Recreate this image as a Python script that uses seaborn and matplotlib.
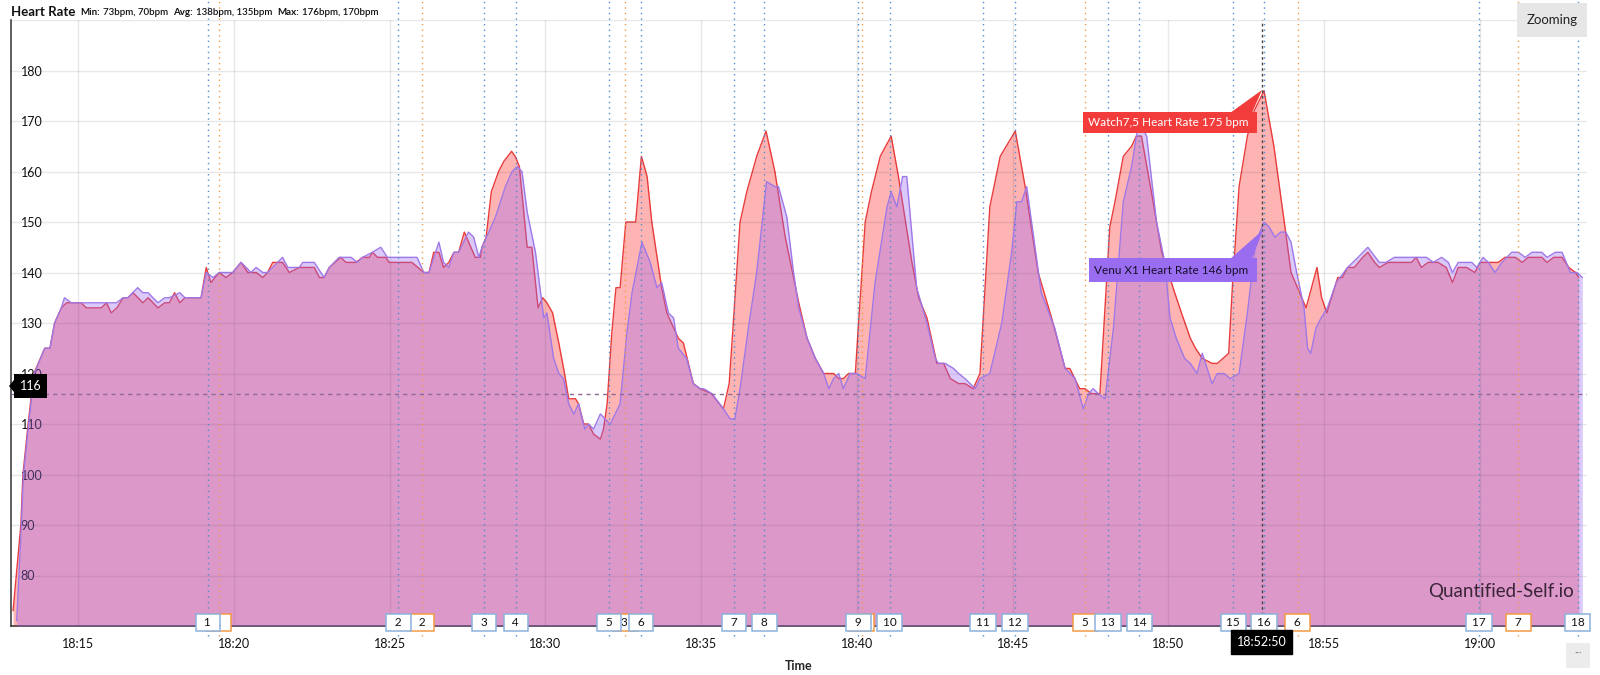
import matplotlib
matplotlib.use("Agg")
import matplotlib.pyplot as plt
import matplotlib.transforms as mtrans
from matplotlib.patches import Rectangle, Polygon
from matplotlib.ticker import FuncFormatter
import numpy as np
import pandas as pd
import seaborn as sns

# ---------------- data (seconds after 18:15:00, bpm) ----------------
start_clock = "18:15:00"

watch_t = [-125, -110, -106, -96, -85, -64, -54, -45, -32, -22,
           6, 16, 45, 55, 64, 75, 87, 96, 106, 125,
           135, 154, 167, 176, 186, 196, 206, 227, 237, 247,
           256, 272, 285, 298, 314, 327, 343, 356, 365, 375,
           394, 407, 426, 455, 465, 474, 484, 506, 516, 535,
           548, 561, 567, 577, 593, 599, 615, 625, 643, 666,
           676, 685, 695, 704, 714, 724, 733, 744, 765, 775,
           778, 786, 796, 810, 820, 835, 842, 850, 865, 874,
           886, 895, 903, 914, 926, 937, 945, 958, 964, 974,
           983, 993, 1006, 1012, 1019, 1028, 1036, 1044, 1055, 1074,
           1085, 1096, 1105, 1124, 1134, 1156, 1166, 1185, 1198, 1220,
           1243, 1254, 1262, 1275, 1288, 1307, 1325, 1342, 1362, 1388,
           1404, 1420, 1436, 1455, 1465, 1474, 1484, 1497, 1502, 1516,
           1528, 1545, 1566, 1580, 1606, 1619, 1635, 1654, 1667, 1680,
           1696, 1708, 1724, 1737, 1756, 1776, 1805, 1824, 1849, 1875,
           1901, 1910, 1929, 1939, 1952, 1968, 1987, 1997, 2013, 2029,
           2038, 2048, 2067, 2087, 2112, 2125, 2142, 2152, 2165, 2184,
           2194, 2216, 2223, 2236, 2252, 2265, 2284, 2303, 2323, 2336,
           2365, 2386, 2395, 2405, 2426, 2435, 2445, 2458, 2474, 2484,
           2497, 2506, 2523, 2548, 2568, 2577, 2587, 2600, 2619, 2635,
           2647, 2658, 2674, 2690, 2700, 2719, 2735, 2748, 2768, 2781,
           2793, 2819, 2829, 2842, 2858, 2871, 2884, 2890]
watch_hr = [73, 90, 100, 110, 120, 125, 125, 130, 133, 134,
            134, 133, 133, 134, 132, 133, 135, 135, 136, 134,
            135, 133, 134, 134, 136, 134, 135, 135, 135, 141,
            138, 140, 139, 140, 142, 140, 140, 139, 140, 142,
            142, 140, 141, 141, 139, 139, 141, 143, 142, 142,
            143, 143, 144, 143, 143, 142, 142, 142, 142, 140,
            140, 144, 144, 141, 142, 144, 144, 148, 143, 143,
            145, 147, 156, 160, 162, 164, 163, 161, 145, 145,
            133, 135, 134, 132, 126, 120, 115, 115, 114, 110,
            110, 108, 107, 109, 114, 128, 137, 137, 150, 150,
            163, 159, 150, 137, 132, 127, 126, 118, 117, 116,
            113, 118, 130, 150, 156, 163, 168, 160, 147, 134,
            127, 123, 120, 120, 119, 119, 120, 120, 128, 150,
            156, 163, 167, 159, 142, 135, 131, 122, 122, 119,
            118, 118, 117, 120, 153, 163, 168, 157, 140, 131,
            121, 121, 117, 117, 116, 116, 149, 154, 163, 165,
            167, 167, 156, 144, 136, 132, 127, 125, 123, 122,
            122, 124, 137, 157, 167, 172, 176, 165, 150, 140,
            133, 141, 135, 132, 139, 139, 141, 141, 143, 144,
            142, 141, 142, 142, 142, 143, 141, 142, 142, 141,
            138, 141, 141, 140, 142, 142, 142, 143, 143, 142,
            143, 143, 142, 143, 143, 141, 140, 139]

venu_t = [-118, -109, -105, -95, -84, -64, -54, -45, -32, -26,
          -13, 74, 87, 96, 115, 125, 135, 154, 167, 176,
          196, 206, 227, 237, 247, 260, 272, 285, 298, 314,
          324, 333, 343, 356, 365, 394, 404, 426, 433, 455,
          474, 484, 503, 526, 538, 548, 567, 583, 596, 615,
          653, 666, 676, 695, 704, 714, 724, 733, 752, 762,
          772, 778, 804, 823, 836, 846, 855, 865, 881, 897,
          903, 916, 926, 935, 945, 955, 964, 976, 983, 993,
          1006, 1015, 1025, 1044, 1057, 1067, 1086, 1102, 1115, 1124,
          1137, 1147, 1156, 1172, 1185, 1198, 1205, 1221, 1243, 1256,
          1265, 1275, 1291, 1307, 1326, 1342, 1349, 1365, 1378, 1388,
          1404, 1420, 1436, 1446, 1455, 1465, 1474, 1487, 1500, 1516,
          1535, 1558, 1566, 1577, 1588, 1596, 1615, 1635, 1651, 1657,
          1670, 1686, 1696, 1708, 1728, 1737, 1756, 1779, 1798, 1808,
          1817, 1827, 1855, 1881, 1901, 1920, 1936, 1946, 1955, 1965,
          1978, 1994, 2013, 2029, 2043, 2058, 2077, 2093, 2103, 2115,
          2131, 2142, 2155, 2165, 2184, 2194, 2207, 2219, 2236, 2252,
          2268, 2284, 2294, 2305, 2316, 2326, 2336, 2345, 2361, 2368,
          2374, 2384, 2394, 2406, 2423, 2445, 2465, 2484, 2506, 2519,
          2535, 2552, 2568, 2597, 2610, 2626, 2639, 2647, 2658, 2684,
          2694, 2706, 2716, 2729, 2742, 2761, 2774, 2787, 2800, 2819,
          2829, 2845, 2858, 2874, 2887, 2897]
venu_hr = [71, 90, 100, 110, 120, 125, 125, 130, 133, 135,
           134, 134, 135, 135, 137, 136, 136, 134, 135, 135,
           136, 135, 135, 135, 140, 139, 140, 140, 140, 142,
           141, 140, 141, 140, 140, 143, 141, 141, 142, 142,
           139, 141, 143, 143, 142, 143, 144, 145, 143, 143,
           143, 140, 140, 146, 142, 141, 144, 144, 148, 147,
           143, 145, 151, 157, 160, 161, 160, 152, 144, 131,
           132, 123, 120, 119, 114, 112, 114, 109, 110, 109,
           112, 111, 110, 114, 128, 136, 146, 142, 137, 138,
           132, 131, 125, 123, 118, 117, 117, 116, 113, 111,
           111, 117, 129, 140, 158, 157, 157, 151, 140, 133,
           127, 123, 120, 117, 119, 120, 117, 120, 120, 119,
           138, 153, 156, 153, 159, 159, 137, 130, 123, 122,
           122, 121, 120, 119, 117, 119, 120, 130, 144, 154,
           154, 157, 136, 129, 121, 119, 113, 116, 117, 116,
           115, 129, 154, 161, 170, 167, 150, 142, 131, 127,
           123, 122, 120, 124, 118, 120, 120, 119, 120, 132,
           146, 150, 149, 147, 148, 148, 146, 141, 133, 125,
           124, 129, 131, 133, 138, 141, 143, 145, 142, 142,
           143, 143, 143, 143, 142, 143, 142, 140, 142, 142,
           141, 143, 142, 140, 142, 144, 144, 143, 144, 144,
           143, 144, 144, 140, 140, 139]

venu_laps = [250, 617, 782, 843, 1023, 1084, 1263, 1322, 1503, 1563,
             1743, 1804, 1984, 2044, 2225, 2284, 2698, 2888]
watch_laps = [271, 663, 1053, 1509, 1940, 2349, 2774]

x_ticks = [0, 300, 600, 900, 1200, 1500, 1800, 2100, 2400, 2700]
y_ticks = [80, 90, 100, 110, 120, 130, 140, 150, 160, 170, 180, 190]

title = "Heart Rate"
stats = [("Min:", "73bpm, 70bpm"), ("Avg:", "138bpm, 135bpm"), ("Max:", "176bpm, 170bpm")]
watch_label = "Watch7,5 Heart Rate 175 bpm"
venu_label = "Venu X1 Heart Rate 146 bpm"
cursor_t = 2280
cursor_label = "18:52:50"
cursor_hr = 116

# ---------------- style ----------------
sns.set_style("white")
plt.rcParams['font.family'] = ['Lato', 'DejaVu Sans']

RED = "#e83c3c"
RED_FILL = "#ff5a5a"
PUR = "#9f78e8"
PUR_FILL = "#9966ee"
BLUE_LAP = "#4f8ccc"
ORANGE_LAP = "#f39a45"

W, H = 1600, 675
fig = plt.figure(figsize=(16, 6.75), dpi=100)
L, R, T, B = 11, 1587, 20, 626
ax = fig.add_axes([L / W, 1 - B / H, (R - L) / W, (B - T) / H])


def fx(x):
    return x / W


def fy(y):
    return 1 - y / H


ymin, ymax = 70, 190
ax.set_xlim(-129, 2906)
ax.set_ylim(ymin, ymax)

# fills + lines
ax.fill_between(watch_t, ymin, watch_hr, color=RED_FILL, alpha=0.45, lw=0, zorder=1)
sns.lineplot(x=watch_t, y=watch_hr, ax=ax, color=RED, lw=1.0, estimator=None,
             sort=False, legend=False, zorder=2)
ax.fill_between(venu_t, ymin, venu_hr, color=PUR_FILL, alpha=0.35, lw=0, zorder=3)
sns.lineplot(x=venu_t, y=venu_hr, ax=ax, color=PUR, lw=1.0, estimator=None,
             sort=False, legend=False, zorder=4)

# grid / axes
ax.set_xticks(x_ticks)
ax.set_yticks(y_ticks)
base = pd.Timestamp("2000-01-01 " + start_clock)
ax.xaxis.set_major_formatter(FuncFormatter(
    lambda s, p: (base + pd.Timedelta(seconds=s)).strftime("%H:%M")))
ax.yaxis.set_major_formatter(FuncFormatter(
    lambda v, p: "" if v >= 190 else f"{int(v)}"))
ax.grid(True, color="#000000", alpha=0.09, lw=1)
ax.set_axisbelow(False)
for s in ["top", "right"]:
    ax.spines[s].set_visible(False)
for s in ["left", "bottom"]:
    ax.spines[s].set_color("#333333")
    ax.spines[s].set_linewidth(1.1)
ax.tick_params(axis="x", direction="out", length=6, width=1, color="#333333",
               labelsize=9, pad=3, labelcolor="#111111")
ax.tick_params(axis="y", direction="in", length=4, width=1, color="#333333",
               labelsize=9, pad=-7, labelcolor="#111111")
for lab in ax.get_yticklabels():
    lab.set_horizontalalignment("left")
ax.set_xlabel("Time", fontsize=9, fontweight="bold", labelpad=7)
ax.set_ylabel("")

# lap lines and boxes
trans = mtrans.blended_transform_factory(ax.transData, ax.transAxes)
top_ext = 1 + T / (B - T)
for t in watch_laps:
    ax.plot([t, t], [-0.016, top_ext], transform=trans, color=ORANGE_LAP, lw=1,
            ls=(0, (1, 3)), clip_on=False, zorder=5)
for t in venu_laps:
    ax.plot([t, t], [-0.016, top_ext], transform=trans, color=BLUE_LAP, lw=1,
            ls=(0, (1, 3)), clip_on=False, zorder=5)

# cursor crosshair
ax.axvline(cursor_t, color="#444444", lw=1, ls=(0, (2, 2)), zorder=6)
ax.axhline(cursor_hr, color="#8e6a96", lw=1, ls=(0, (3, 3)), zorder=6)


def lap_text(i):
    s = str(i)
    return "\u2002" + s + "\u2002" if len(s) == 1 else " " + s + " "


for i, t in enumerate(watch_laps, start=1):
    ax.text(t, 0.006, lap_text(i), transform=trans, ha="center", va="center",
            fontsize=8.5, color="#111111", zorder=7, clip_on=False,
            bbox=dict(boxstyle="square,pad=0.25", fc="white", ec=ORANGE_LAP, lw=1.1))
for i, t in enumerate(venu_laps, start=1):
    ax.text(t, 0.006, lap_text(i), transform=trans, ha="center", va="center",
            fontsize=8.5, color="#111111", zorder=8, clip_on=False,
            bbox=dict(boxstyle="square,pad=0.25", fc="white", ec="#8db2dc", lw=1.1))

# cursor time label
ax.annotate(cursor_label, xy=(cursor_t, 0), xycoords=trans, xytext=(0, -16),
            textcoords="offset pixels", ha="center", va="center", fontsize=9,
            color="white", zorder=9, annotation_clip=False,
            bbox=dict(boxstyle="square,pad=0.45", fc="black", ec="black"))

# ---- overlay UI elements (figure pixel coordinates) ----
def box(x0, y0, x1, y1, fc, z=10):
    fig.add_artist(Rectangle((fx(x0), fy(y1)), (x1 - x0) / W, (y1 - y0) / H,
                             transform=fig.transFigure, fc=fc, ec="none", zorder=z))


def tri(pts, fc, z=10):
    fig.add_artist(Polygon([(fx(a), fy(b)) for a, b in pts], closed=True,
                           transform=fig.transFigure, fc=fc, ec="none", zorder=z))


# tooltips
box(1083, 112, 1257, 133, "#f23c3c")
tri([(1230, 113), (1252, 113), (1262, 90)], "#f23c3c")
fig.text(fx(1168), fy(123), watch_label, ha="center", va="center", fontsize=8.5,
         color="white", zorder=11)
box(1089, 258, 1257, 282, "#9a6cf0")
tri([(1230, 259), (1252, 259), (1263, 230)], "#9a6cf0")
fig.text(fx(1171), fy(270), venu_label, ha="center", va="center", fontsize=8.5,
         color="#15102a", zorder=11)

# y cursor label
box(14, 374, 47, 398, "black")
tri([(14, 380), (14, 392), (9, 386)], "black")
fig.text(fx(30.5), fy(386.5), str(cursor_hr), ha="center", va="center", fontsize=9,
         color="white", zorder=11)

# zooming button
box(1517, 3, 1587, 37, "#e6e6e6")
fig.text(fx(1552), fy(20), "Zooming", ha="center", va="center", fontsize=9.5,
         color="#222222", zorder=11)

# ... button
box(1566, 643, 1590, 668, "#ececec")
fig.text(fx(1578), fy(653), "···", ha="center", va="center", fontsize=7,
         color="#777777", zorder=11)

# watermark
fig.text(fx(1574), fy(592), "Quantified-Self.io", ha="right", va="center",
         fontsize=13.5, color="#2e1a2c", alpha=0.92, zorder=11)

# title line
fig.canvas.draw()
rend = fig.canvas.get_renderer()
x = 11.0
t0 = fig.text(fx(x), fy(12), title, ha="left", va="center", fontsize=9.5,
              fontweight="bold", color="#111111")
x += t0.get_window_extent(rend).width + 5
for lab, val in stats:
    a = fig.text(fx(x), fy(12.5), lab, ha="left", va="center", fontsize=7,
                 fontweight="bold", color="#111111")
    x += a.get_window_extent(rend).width + 3.5
    b = fig.text(fx(x), fy(12.5), val, ha="left", va="center", fontsize=7,
                 fontweight="semibold", color="#111111")
    x += b.get_window_extent(rend).width + 4.5

fig.savefig("out.png", dpi=100)
